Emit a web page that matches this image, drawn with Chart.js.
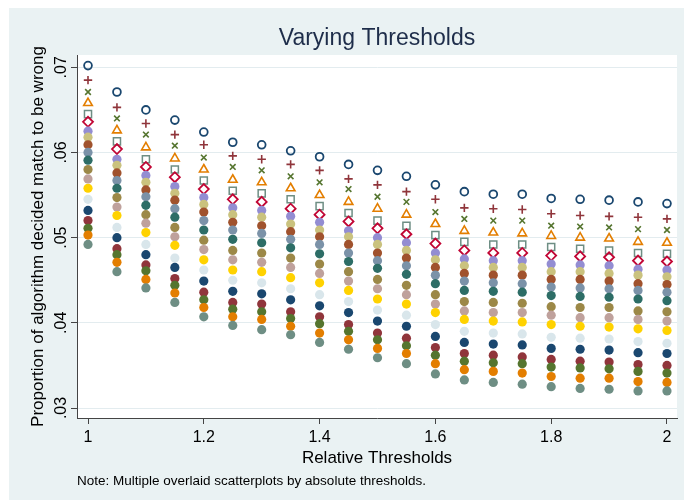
<!DOCTYPE html>
<html>
<head>
<meta charset="utf-8">
<title>Varying Thresholds</title>
<script src="https://cdn.jsdelivr.net/npm/chart.js@4.4.1/dist/chart.umd.min.js"></script>
<style>
  html, body { margin: 0; padding: 0; background: #fff; }
  canvas { display: block; }
</style>
</head>
<body>
<canvas id="chart" width="684" height="500"></canvas>
<script>
// relative thresholds on the x axis
const relThresholds = [1, 1.05, 1.1, 1.15, 1.2, 1.25, 1.3, 1.35, 1.4, 1.45, 1.5,
                       1.55, 1.6, 1.65, 1.7, 1.75, 1.8, 1.85, 1.9, 1.95, 2];

// share of wrong matches, one array per absolute threshold
const abs01 = [.0702, .0671, .0650, .0638, .0624, .0612, .0609, .0602, .0595, .0586, .0579, .0572, .0562, .0554, .0551, .0551, .0546, .0545, .0544, .0542, .0540];
const abs02 = [.0685, .0653, .0634, .0621, .0609, .0596, .0592, .0586, .0579, .0569, .0562, .0554, .0545, .0535, .0534, .0533, .0528, .0526, .0525, .0524, .0522];
const abs03 = [.0671, .0640, .0621, .0608, .0594, .0583, .0579, .0572, .0565, .0557, .0548, .0542, .0530, .0522, .0520, .0520, .0514, .0513, .0512, .0510, .0509];
const abs04 = [.0658, .0626, .0606, .0593, .0580, .0568, .0565, .0558, .0550, .0542, .0534, .0527, .0516, .0508, .0506, .0505, .0502, .0500, .0499, .0495, .0494];
const abs05 = [.0645, .0613, .0592, .0580, .0567, .0555, .0552, .0545, .0537, .0529, .0520, .0514, .0503, .0495, .0492, .0492, .0489, .0487, .0485, .0482, .0481];
const abs06 = [.0636, .0604, .0583, .0571, .0557, .0545, .0542, .0534, .0527, .0519, .0511, .0504, .0493, .0485, .0482, .0482, .0479, .0478, .0477, .0473, .0472];
const abs07 = [.0625, .0592, .0573, .0560, .0547, .0535, .0532, .0525, .0518, .0508, .0500, .0494, .0482, .0475, .0473, .0473, .0469, .0468, .0467, .0463, .0462];
const abs08 = [.0618, .0585, .0565, .0552, .0539, .0527, .0524, .0516, .0509, .0501, .0492, .0485, .0474, .0467, .0465, .0465, .0460, .0460, .0458, .0456, .0454];
const abs09 = [.0609, .0576, .0556, .0544, .0530, .0518, .0514, .0507, .0501, .0492, .0482, .0476, .0465, .0458, .0456, .0456, .0451, .0451, .0449, .0446, .0445];
const abs10 = [.0600, .0567, .0548, .0534, .0520, .0509, .0505, .0498, .0492, .0482, .0473, .0467, .0456, .0449, .0447, .0446, .0442, .0441, .0440, .0438, .0436];
const abs11 = [.0591, .0558, .0538, .0524, .0509, .0498, .0494, .0488, .0481, .0472, .0464, .0457, .0446, .0438, .0437, .0436, .0432, .0431, .0430, .0428, .0426];
const abs12 = [.0580, .0547, .0527, .0512, .0497, .0485, .0482, .0476, .0469, .0460, .0451, .0444, .0433, .0425, .0424, .0423, .0419, .0418, .0418, .0414, .0413];
const abs13 = [.0569, .0536, .0517, .0501, .0486, .0474, .0471, .0465, .0458, .0449, .0440, .0433, .0422, .0414, .0412, .0412, .0409, .0406, .0406, .0404, .0402];
const abs14 = [.0558, .0526, .0506, .0491, .0474, .0462, .0460, .0453, .0447, .0438, .0428, .0422, .0412, .0404, .0402, .0401, .0398, .0396, .0395, .0393, .0391];
const abs15 = [.0545, .0512, .0492, .0476, .0462, .0450, .0447, .0440, .0433, .0425, .0415, .0409, .0398, .0390, .0388, .0387, .0383, .0382, .0381, .0378, .0376];
const abs16 = [.0532, .0500, .0480, .0465, .0449, .0437, .0434, .0427, .0420, .0412, .0402, .0396, .0384, .0377, .0375, .0374, .0370, .0369, .0368, .0365, .0364];
const abs17 = [.0520, .0487, .0468, .0452, .0436, .0424, .0422, .0413, .0407, .0398, .0388, .0382, .0371, .0364, .0362, .0360, .0357, .0355, .0354, .0351, .0350];
const abs18 = [.0511, .0480, .0461, .0444, .0427, .0416, .0413, .0405, .0399, .0390, .0380, .0373, .0362, .0355, .0353, .0352, .0348, .0347, .0346, .0343, .0341];
const abs19 = [.0503, .0471, .0451, .0435, .0418, .0407, .0404, .0396, .0388, .0380, .0370, .0364, .0352, .0345, .0343, .0341, .0337, .0335, .0335, .0331, .0330];
const abs20 = [.0492, .0460, .0441, .0424, .0407, .0397, .0392, .0386, .0377, .0369, .0359, .0352, .0340, .0333, .0330, .0328, .0325, .0323, .0322, .0320, .0320];

const xTicks = [1, 1.2, 1.4, 1.6, 1.8, 2];
const xTickLabels = ['1', '1.2', '1.4', '1.6', '1.8', '2'];
const yTicks = [.03, .04, .05, .06, .07];
const yTickLabels = ['.03', '.04', '.05', '.06', '.07'];

const allSeries = [abs01, abs02, abs03, abs04, abs05, abs06, abs07, abs08, abs09, abs10,
                   abs11, abs12, abs13, abs14, abs15, abs16, abs17, abs18, abs19, abs20];

// stata s2color palette, in plot order
const colors = ['#1a476f', '#90353b', '#55752f', '#e37e00', '#6e8e84', '#c10534',
                '#938dd2', '#cac27e', '#a0522d', '#7b92a8', '#2d6d66', '#9c8847',
                '#bfa19c', '#ffd200', '#d9e6eb', '#1a476f', '#90353b', '#55752f',
                '#e37e00', '#6e8e84'];

// first six are hollow symbols, the rest solid dots
const hollowMarkers = [
  { style: 'circle',   radius: 3.9, width: 1.8 },
  { style: 'cross',    radius: 4.2, width: 1.6 },
  { style: 'crossRot', radius: 4.0, width: 1.6 },
  { style: 'triangle', radius: 5.0, width: 1.6 },
  { style: 'rect',     radius: 5.0, width: 1.5 },
  { style: 'rectRot',  radius: 5.0, width: 1.8 }
];

const FONT = '"Liberation Sans", Arial, Helvetica, sans-serif';
Chart.defaults.font.family = FONT;
Chart.defaults.color = '#000';

const datasets = allSeries.map((ys, i) => {
  const m = hollowMarkers[i];
  return {
    label: 'abs' + (i + 1),
    data: ys.map((y, j) => ({ x: relThresholds[j], y: y })),
    pointStyle: m ? m.style : 'circle',
    pointRadius: m ? m.radius : 4.6,
    pointBorderWidth: m ? m.width : 0,
    pointBorderColor: colors[i],
    pointBackgroundColor: m ? 'rgba(0,0,0,0)' : colors[i],
    showLine: false,
    order: allSeries.length - i
  };
});

// graph region, plot region and rotated y tick labels
const stataFrame = {
  id: 'stataFrame',
  beforeDraw(chart) {
    const { ctx, chartArea: a } = chart;
    ctx.save();
    ctx.fillStyle = '#fff';
    ctx.fillRect(0, 0, chart.width, chart.height);
    ctx.fillStyle = '#eaf2f3';
    ctx.fillRect(9, 8, chart.width - 9, chart.height - 8);
    ctx.fillStyle = '#fff';
    ctx.fillRect(a.left, a.top, a.right - a.left, a.bottom - a.top);
    ctx.restore();
  },
  afterDraw(chart) {
    const { ctx, scales: { y } } = chart;
    ctx.save();
    ctx.font = '16px ' + FONT;
    ctx.fillStyle = '#000';
    ctx.textAlign = 'center';
    ctx.textBaseline = 'middle';
    yTicks.forEach((v, i) => {
      ctx.save();
      ctx.translate(chart.chartArea.left - 15.5, y.getPixelForValue(v));
      ctx.rotate(-Math.PI / 2);
      ctx.fillText(yTickLabels[i], 0, 0);
      ctx.restore();
    });
    ctx.restore();
  }
};

new Chart(document.getElementById('chart'), {
  type: 'scatter',
  data: { datasets },
  plugins: [stataFrame],
  options: {
    responsive: false,
    animation: false,
    devicePixelRatio: 1,
    layout: { padding: { left: 0, right: 7, top: 0, bottom: 0 } },
    plugins: {
      legend: { display: false },
      tooltip: { enabled: false },
      title: {
        display: true,
        text: 'Varying Thresholds',
        fullSize: false,
        color: '#1e2d4a',
        font: { size: 23, weight: 'normal' },
        padding: { top: 25.2, bottom: 2.2 }
      },
      subtitle: {
        display: true,
        text: 'Note: Multiple overlaid scatterplots by absolute thresholds.',
        position: 'bottom',
        align: 'start',
        fullSize: false,
        color: '#000',
        font: { size: 13.5 },
        padding: { top: 2.8, bottom: 11 }
      }
    },
    scales: {
      x: {
        type: 'linear',
        min: 0.981,
        max: 2.0173,
        afterBuildTicks: s => { s.ticks = xTicks.map(v => ({ value: v })); },
        afterFit: s => { s.height = 52; },
        ticks: {
          font: { size: 16 },
          padding: 4,
          maxRotation: 0,
          autoSkip: false,
          callback: (v, i) => xTickLabels[i]
        },
        grid: {
          drawOnChartArea: false,
          tickLength: 6,
          tickColor: '#444'
        },
        border: { color: '#444', width: 1 },
        title: {
          display: true,
          text: 'Relative Thresholds',
          font: { size: 17 },
          padding: { top: 0, bottom: 1.8 }
        }
      },
      y: {
        type: 'linear',
        min: 0.028826,
        max: 0.071444,
        afterBuildTicks: s => { s.ticks = yTicks.map(v => ({ value: v })); },
        afterFit: s => { s.width = 77; },
        ticks: { display: false },
        grid: {
          color: '#e3ecef',
          lineWidth: 1,
          tickLength: 6,
          tickColor: '#444'
        },
        border: { color: '#444', width: 1 },
        title: {
          display: true,
          text: 'Proportion of algorithm decided match to be wrong',
          font: { size: 17 },
          padding: { top: 28, bottom: 0 }
        }
      }
    }
  }
});
</script>
</body>
</html>
